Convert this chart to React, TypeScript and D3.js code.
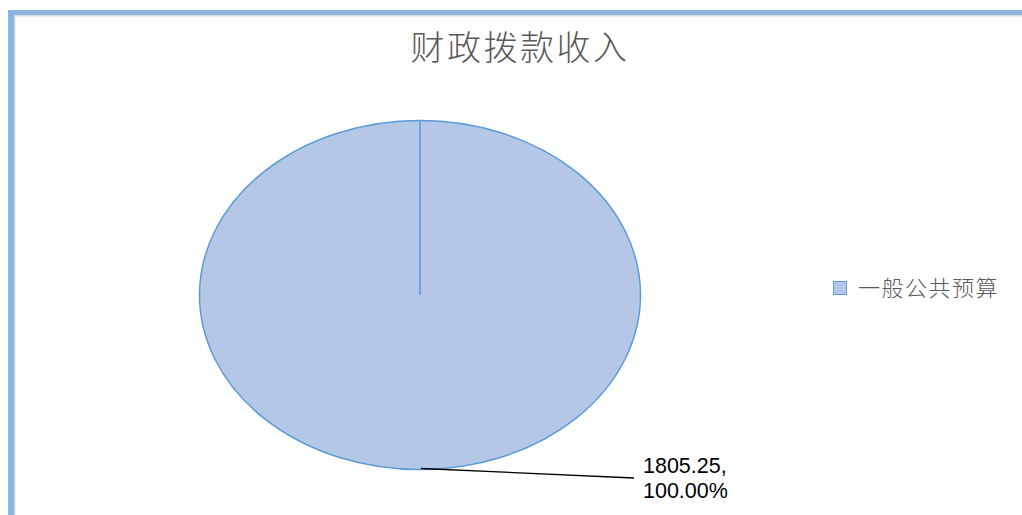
import React, { useEffect, useRef } from "react";
import * as d3 from "d3";

const categories = ["一般公共预算"];
const values = [1805.25];
const title = "财政拨款收入";

const App: React.FC = () => {
  const svgRef = useRef<SVGSVGElement>(null);

  useEffect(() => {
    if (!svgRef.current) return;
    const svg = d3.select(svgRef.current);
    svg.selectAll("*").remove();

    const width = 1022;
    const height = 515;
    svg.attr("width", width).attr("height", height);

    // frame of the chart area
    svg.append("rect").attr("x", 8).attr("y", 10).attr("width", width - 8).attr("height", 5).attr("fill", "#8EB4E3");
    svg.append("rect").attr("x", 8).attr("y", 10).attr("width", 6).attr("height", height - 10).attr("fill", "#8EB4E3");
    svg.append("rect").attr("x", 14).attr("y", 15).attr("width", width - 14).attr("height", 1.5).attr("fill", "#D9D9D9");
    svg.append("rect").attr("x", 14).attr("y", 15).attr("width", 1.5).attr("height", height - 15).attr("fill", "#D9D9D9");

    // title
    svg
      .append("text")
      .attr("x", 520)
      .attr("y", 60)
      .attr("text-anchor", "middle")
      .style("font-family", "'Noto Sans CJK SC', sans-serif")
      .style("font-weight", 300)
      .style("font-size", "34px")
      .style("letter-spacing", "2.5px")
      .attr("fill", "#595959")
      .text(title);

    // pie, stretched into an ellipse
    const cx = 420;
    const cy = 295;
    const r = 174.5;
    const sx = 220.5 / r;
    const total = d3.sum(values);

    const pie = d3.pie<number>().sort(null).value((d) => d);
    const arcs = pie(values);
    const arc = d3.arc<d3.PieArcDatum<number>>().innerRadius(0).outerRadius(r);

    const g = svg.append("g").attr("transform", `translate(${cx},${cy}) scale(${sx},1)`);
    g.selectAll("path")
      .data(arcs)
      .enter()
      .append("path")
      .attr("d", arc)
      .attr("fill", "#B4C7E7")
      .attr("stroke", "#5B9BD5")
      .attr("stroke-width", 1.5)
      .attr("vector-effect", "non-scaling-stroke");

    // slice boundary lines
    arcs.forEach((a) => {
      const [px, py] = d3.pointRadial(a.startAngle, r);
      g.append("line")
        .attr("x1", 0)
        .attr("y1", 0)
        .attr("x2", px)
        .attr("y2", py)
        .attr("stroke", "#5B9BD5")
        .attr("stroke-width", 1.5)
        .attr("vector-effect", "non-scaling-stroke");
    });

    // data label with leader line
    arcs.forEach((a, i) => {
      const mid = (a.startAngle + a.endAngle) / 2;
      const [px, py] = d3.pointRadial(mid, r);
      const x0 = cx + px * sx + 1;
      const y0 = cy + py - 1;
      svg
        .append("line")
        .attr("x1", x0)
        .attr("y1", y0)
        .attr("x2", 634)
        .attr("y2", 478)
        .attr("stroke", "#000")
        .attr("stroke-width", 1.3);
      const lines = [`${values[i].toFixed(2)},`, `${((values[i] / total) * 100).toFixed(2)}%`];
      lines.forEach((s, j) => {
        svg
          .append("text")
          .attr("x", 643)
          .attr("y", 473 + j * 25)
          .style("font-family", "'Liberation Sans', Arial, sans-serif")
          .style("font-size", "21.5px")
          .attr("fill", "#000")
          .text(s);
      });
    });

    // legend
    const legend = svg.append("g").attr("transform", "translate(833,281)");
    categories.forEach((c, i) => {
      legend
        .append("rect")
        .attr("x", 0.5)
        .attr("y", i * 30 + 0.5)
        .attr("width", 13)
        .attr("height", 13)
        .attr("fill", "#B4C7E7")
        .attr("stroke", "#5B9BD5");
      legend
        .append("text")
        .attr("x", 25)
        .attr("y", i * 30 + 15)
        .style("font-family", "'Noto Sans CJK SC', sans-serif")
        .style("font-weight", 300)
        .style("font-size", "22px")
        .style("letter-spacing", "1.5px")
        .attr("fill", "#595959")
        .text(c);
    });
  }, []);

  return <svg ref={svgRef} style={{ position: "absolute", left: 0, top: 0 }}></svg>;
};

export default App;
